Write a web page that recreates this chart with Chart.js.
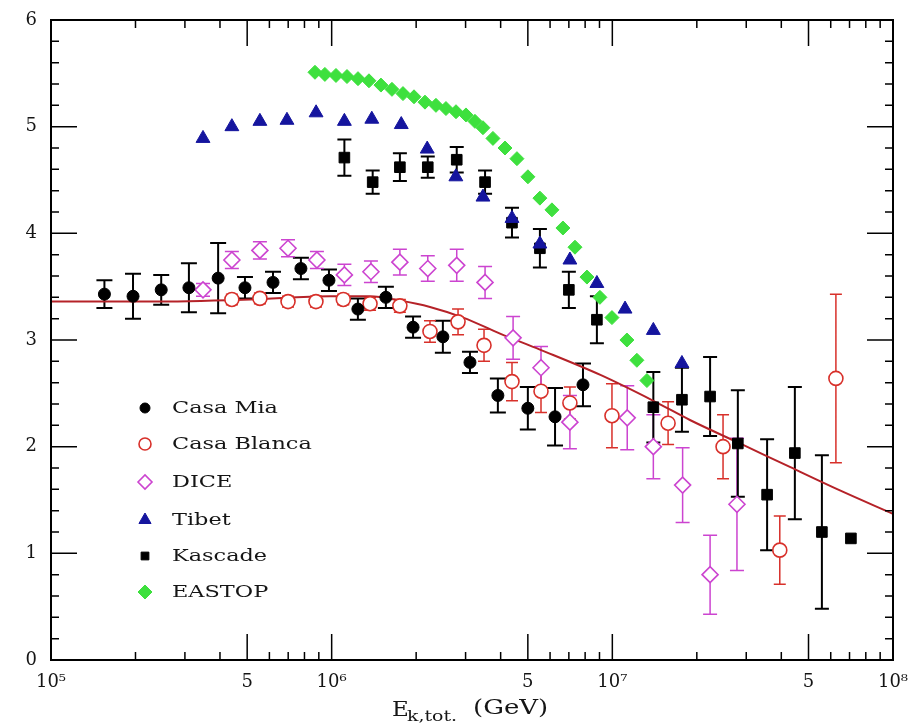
<!DOCTYPE html>
<html><head><meta charset="utf-8">
<script src="https://cdn.jsdelivr.net/npm/chart.js@4.4.1/dist/chart.umd.min.js"></script>
<style>html,body{margin:0;padding:0;background:#fff}#wrap{width:912px;height:723px}</style>
</head><body><div id="wrap"><canvas id="c" width="912" height="723"></canvas></div>
<script>
const xTickValues=[1e5,5e5,1e6,5e6,1e7,5e7,1e8];
const xTickLabels=['10\u2075','5','10\u2076','5','10\u2077','5','10\u2078'];
const yTickLabels=['0','1','2','3','4','5','6'];
const legendLabels=['Casa Mia','Casa Blanca','DICE','Tibet','Kascade','EASTOP'];

const casaMiaE=[1.55e5,1.96e5,2.47e5,3.10e5,3.94e5,4.91e5,6.18e5,7.77e5,9.78e5,1.24e6,1.56e6,1.95e6,2.49e6,3.11e6,3.91e6,5.00e6,6.25e6,7.86e6];
const casaMiaY=[3.43,3.41,3.47,3.49,3.58,3.49,3.54,3.67,3.56,3.29,3.40,3.12,3.03,2.79,2.48,2.36,2.28,2.58];
const casaMiaErr=[0.13,0.21,0.14,0.23,0.33,0.10,0.10,0.10,0.10,0.10,0.10,0.10,0.15,0.10,0.16,0.20,0.27,0.20];

const casaBlancaE=[4.41e5,5.55e5,6.99e5,8.79e5,1.10e6,1.37e6,1.75e6,2.24e6,2.82e6,3.49e6,4.39e6,5.57e6,7.06e6,9.97e6,1.58e7,2.48e7,3.95e7,6.26e7];
const casaBlancaY=[3.38,3.39,3.36,3.36,3.38,3.34,3.32,3.08,3.17,2.95,2.61,2.52,2.41,2.29,2.22,2.00,1.03,2.64];
const casaBlancaErr=[0.05,0.05,0.05,0.05,0.05,0.06,0.06,0.10,0.12,0.15,0.18,0.20,0.15,0.30,0.20,0.30,0.32,0.79];

const diceE=[3.48e5,4.41e5,5.55e5,6.99e5,8.86e5,1.11e6,1.38e6,1.75e6,2.20e6,2.79e6,3.52e6,4.43e6,5.57e6,7.06e6,1.13e7,1.40e7,1.78e7,2.23e7,2.78e7];
const diceY=[3.47,3.75,3.84,3.86,3.75,3.61,3.64,3.73,3.67,3.70,3.54,3.02,2.74,2.23,2.27,2.00,1.64,0.80,1.46];
const diceErr=[0.06,0.08,0.08,0.08,0.08,0.10,0.10,0.12,0.12,0.15,0.15,0.20,0.20,0.25,0.30,0.30,0.35,0.37,0.62];

const tibetE=[3.48e5,4.41e5,5.55e5,6.93e5,8.80e5,1.11e6,1.39e6,1.77e6,2.19e6,2.77e6,3.46e6,4.39e6,5.52e6,7.06e6,8.81e6,1.11e7,1.40e7,1.77e7];
const tibetY=[4.89,5.00,5.05,5.06,5.13,5.05,5.07,5.02,4.79,4.53,4.34,4.14,3.90,3.75,3.53,3.29,3.09,2.78];

const kascadeE=[1.11e6,1.40e6,1.75e6,2.20e6,2.79e6,3.52e6,4.39e6,5.52e6,7.00e6,8.81e6,1.40e7,1.77e7,2.23e7,2.80e7,3.56e7,4.47e7,5.58e7,7.08e7];
const kascadeY=[4.71,4.48,4.62,4.62,4.69,4.48,4.10,3.86,3.47,3.19,2.37,2.44,2.47,2.03,1.55,1.94,1.20,1.14];
const kascadeErr=[0.17,0.11,0.13,0.10,0.12,0.11,0.14,0.18,0.17,0.22,0.33,0.30,0.37,0.50,0.52,0.62,0.72,0];

const eastopE=[8.72e5,9.46e5,1.036e6,1.134e6,1.241e6,1.358e6,1.498e6,1.640e6,1.795e6,1.965e6,2.150e6,2.353e6,2.554e6,2.773e6,3.01e6,3.24e6,3.46e6,3.755e6,4.145e6,4.572e6,5.003e6,5.52e6,6.093e6,6.668e6,7.36e6,8.12e6,9.03e6,9.97e6,1.127e7,1.223e7,1.328e7];
const eastopY=[5.51,5.49,5.48,5.47,5.45,5.43,5.39,5.35,5.31,5.28,5.23,5.20,5.17,5.14,5.11,5.05,4.99,4.89,4.80,4.70,4.53,4.33,4.22,4.05,3.87,3.59,3.40,3.21,3.00,2.81,2.62];

const curveE=[1e5,2.25e5,5.12e5,9.86e5,1.37e6,1.75e6,2.24e6,2.94e6,3.98e6,5.52e6,9.11e6,1.40e7,1.89e7,2.85e7,4.29e7,6.47e7,1e8];
const curveY=[3.36,3.36,3.38,3.41,3.41,3.37,3.31,3.21,3.06,2.91,2.67,2.43,2.25,2.03,1.81,1.59,1.37];

const FONT="'DejaVu Serif','Liberation Serif',serif";
const C={mia:'#000000',blanca:'#d8302a',dice:'#cc44d0',tibet:'#15159e',kascade:'#000000',eastop:'#3ee03e',curve:'#b52228'};

function pts(xs,ys){return xs.map((v,i)=>({x:v,y:ys[i]}));}

const styles=[
 {pointStyle:'circle',radius:6,border:C.mia,fill:C.mia,bw:1},
 {pointStyle:'circle',radius:7,border:C.blanca,fill:'#ffffff',bw:1.6},
 {pointStyle:'rectRot',radius:8,border:C.dice,fill:'#ffffff',bw:1.6},
 {pointStyle:'triangle',radius:8,border:C.tibet,fill:C.tibet,bw:1},
 {pointStyle:'rect',radius:7.5,border:C.kascade,fill:C.kascade,bw:1},
 {pointStyle:'rectRot',radius:7,border:C.eastop,fill:C.eastop,bw:1}
];

function ds(label,xs,ys,st,errs,errColor,errWidth,cap){
  return {label,data:pts(xs,ys),showLine:false,pointStyle:st.pointStyle,pointRadius:st.radius,
    pointBorderColor:st.border,pointBackgroundColor:st.fill,pointBorderWidth:st.bw,
    errors:errs,errorColor:errColor,errorWidth:errWidth,errorCap:cap};
}

const errorBars={id:'errorBars',
  beforeDatasetsDraw(chart){
    const {ctx,scales:{x,y}}=chart;
    chart.data.datasets.forEach(d=>{
      if(!d.errors) return;
      ctx.save();ctx.strokeStyle=d.errorColor;ctx.lineWidth=d.errorWidth;
      ctx.beginPath();
      d.data.forEach((p,j)=>{
        const e=d.errors[j]; if(!e) return;
        const px=x.getPixelForValue(p.x);
        const t=y.getPixelForValue(p.y+e), b=y.getPixelForValue(p.y-e);
        const c=d.errorCap;
        ctx.moveTo(px,t);ctx.lineTo(px,b);
        ctx.moveTo(px-c,t);ctx.lineTo(px+c,t);
        ctx.moveTo(px-c,b);ctx.lineTo(px+c,b);
      });
      ctx.stroke();ctx.restore();
    });
  }};

const frame={id:'frame',
  afterDraw(chart){
    const {ctx,chartArea:a,scales:{x,y}}=chart;
    ctx.save();ctx.fillStyle='#000';
    const L=Math.round(a.left),R=Math.round(a.right),T=Math.round(a.top),B=Math.round(a.bottom);
    ctx.fillRect(L-1,T-1,R-L+2,2);
    ctx.fillRect(L-1,B-1,R-L+2,2);
    ctx.fillRect(L-1,T-1,2,B-T+2);
    ctx.fillRect(R-1,T-1,2,B-T+2);
    ctx.strokeStyle='#000';ctx.lineWidth=1.5;
    ctx.beginPath();
    for(let d=5;d<8;d++){for(let m=1;m<10;m++){
      const v=m*Math.pow(10,d); if(v<=1e5) continue;
      const px=x.getPixelForValue(v); const len=(m===1||m===5)?26:8;
      ctx.moveTo(px,B);ctx.lineTo(px,B-len);
      ctx.moveTo(px,T);ctx.lineTo(px,T+len);
    }}
    for(let k=1;k<30;k++){
      const py=y.getPixelForValue(k/5); const len=(k%5===0)?26:8;
      ctx.moveTo(L,py);ctx.lineTo(L+len,py);
      ctx.moveTo(R,py);ctx.lineTo(R-len,py);
    }
    ctx.stroke();ctx.restore();
  }};

function wideText(ctx,txt,x,y,sx){
  ctx.save();ctx.translate(x,y);ctx.scale(sx,1);ctx.fillText(txt,0,0);
  const w=ctx.measureText(txt).width*sx;ctx.restore();return w;
}

const legendBox={id:'legendBox',
  afterDraw(chart){
    const ctx=chart.ctx;
    const rows=[408,444,482,520,556,592];
    ctx.save();
    legendLabels.forEach((lab,i)=>{
      const st=styles[i];
      ctx.fillStyle=st.fill;ctx.strokeStyle=st.border;ctx.lineWidth=st.bw;
      const r=(i===4)?5.5:(i===5?7:st.radius-1);
      Chart.helpers.drawPoint(ctx,{pointStyle:st.pointStyle,radius:r,rotation:0,borderWidth:st.bw},145,rows[i]);
      ctx.fillStyle='#151515';ctx.font='16px '+FONT;ctx.textBaseline='middle';ctx.textAlign='left';
      wideText(ctx,lab,172,rows[i]+1,1.4);
    });
    ctx.fillStyle='#151515';ctx.textBaseline='alphabetic';
    ctx.font='20px '+FONT;wideText(ctx,'E',392,716,1.15);
    ctx.font='14px '+FONT;wideText(ctx,'k,tot.',407,721,1.35);
    ctx.font='20px '+FONT;wideText(ctx,'(GeV)',473,714,1.3);
    ctx.restore();
  }};

new Chart(document.getElementById('c'),{
  type:'scatter',
  data:{datasets:[
    ds('Casa Mia',casaMiaE,casaMiaY,styles[0],casaMiaErr,'#000',2,8),
    ds('Casa Blanca',casaBlancaE,casaBlancaY,styles[1],casaBlancaErr,C.blanca,1.5,6),
    ds('DICE',diceE,diceY,styles[2],diceErr,C.dice,1.5,7),
    ds('Tibet',tibetE,tibetY,styles[3],null),
    ds('Kascade',kascadeE,kascadeY,styles[4],kascadeErr,'#000',2,7),
    ds('EASTOP',eastopE,eastopY,styles[5],null),
    {label:'fit',data:pts(curveE,curveY),showLine:true,pointRadius:0,borderColor:C.curve,borderWidth:2,cubicInterpolationMode:'monotone',fill:false}
  ]},
  options:{
    responsive:false,animation:false,events:[],
    layout:{padding:{left:0,top:20,right:19,bottom:0}},
    plugins:{legend:{display:false},tooltip:{enabled:false}},
    scales:{
      x:{type:'logarithmic',min:1e5,max:1e8,
        afterBuildTicks(s){s.ticks=xTickValues.map(v=>({value:v}));},
        afterFit(s){s.height=63;s.paddingLeft=0;s.paddingRight=0;},
        grid:{display:false,drawTicks:false},border:{display:false},
        ticks:{autoSkip:false,maxRotation:0,padding:12,color:'#151515',font:{family:FONT,size:18},
          callback:(v,i)=>xTickLabels[i]}},
      y:{type:'linear',min:0,max:6,
        afterFit(s){s.width=51;s.paddingTop=0;s.paddingBottom=0;},
        grid:{display:false,drawTicks:false},border:{display:false},
        ticks:{stepSize:1,padding:14,color:'#151515',font:{family:FONT,size:18},
          callback:(v,i)=>yTickLabels[i]}}
    }
  },
  plugins:[errorBars,frame,legendBox]
});
</script></body></html>
